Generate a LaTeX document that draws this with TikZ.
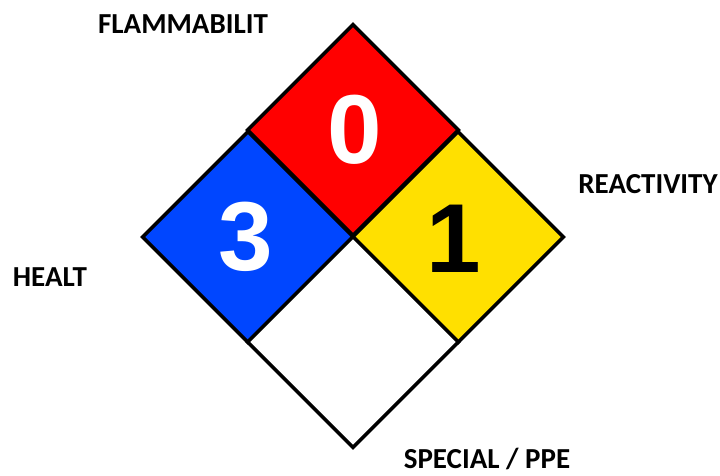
\documentclass[tikz,border=0pt]{standalone}
\usepackage{fontspec}
\setmainfont{Carlito}
\newfontfamily\digitfont{Liberation Sans}
\usepackage{xcolor}
\usetikzlibrary{positioning}

\definecolor{hazred}{RGB}{255,0,0}
\definecolor{hazblue}{RGB}{0,70,255}
\definecolor{hazyellow}{RGB}{255,224,0}

\begin{document}
\begin{tikzpicture}[
  x=1pt, y=-1pt,
  cell/.style={draw, line width=3.5pt, line join=miter, minimum size=149pt, inner sep=0pt, rotate=45},
  digit/.style={font=\digitfont\bfseries\fontsize{98}{98}\selectfont},
  tag/.style={font=\bfseries\fontsize{29}{29}\selectfont, inner sep=0pt}
]
\useasboundingbox (0,0) rectangle (720,475);

% Nodes
\node[cell, fill=hazred] (flam) at (353,130) {};
\node[cell, fill=hazblue] (health) at (248,237) {};
\node[cell, fill=hazyellow] (react) at (458,237) {};
\node[cell, fill=white] (special) at (353,342) {};

\node[digit, white] (n0) at ([xshift=2pt]flam.center) {0};
\node[digit, white] (n3) at ([xshift=-2pt]health.center) {3};
\node[digit, black] (n1) at ([xshift=-4pt, yshift=-2pt]react.center) {1};

% Labels
\node[tag] (lflam) at (183,24) {FLAMMABILIT};
\node[tag] (lreact) at (648,184) {REACTIVITY};
\node[tag] (lhealth) at (50,277) {HEALT};
\node[tag] (lspecial) at (487,459) {SPECIAL / PPE};
\end{tikzpicture}
\end{document}
